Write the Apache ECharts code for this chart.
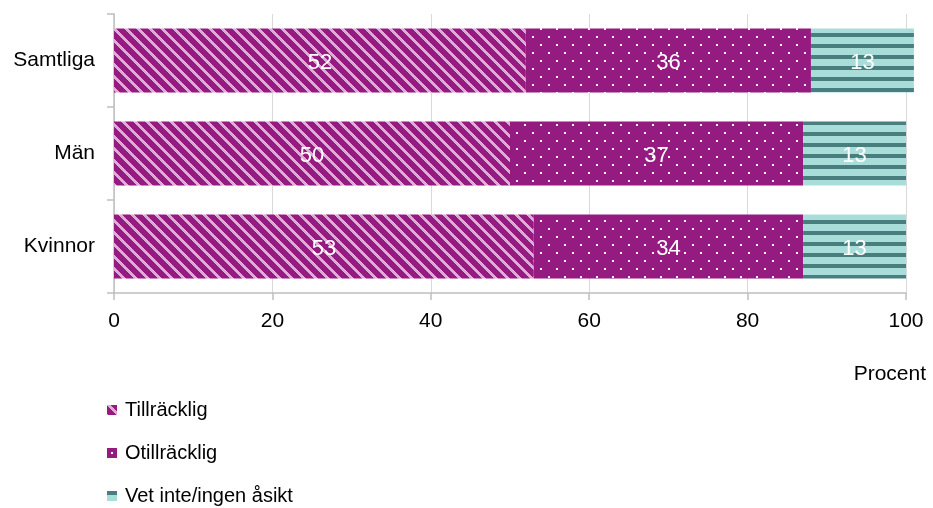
<!DOCTYPE html>
<html>
<head>
<meta charset="utf-8">
<script src="https://cdn.jsdelivr.net/npm/echarts@6/dist/echarts.min.js"></script>
<style>
html,body{margin:0;padding:0;background:#fff;}
#chart{width:933px;height:508px;}
</style>
</head>
<body>
<div id="chart"></div>
<script>
const categories = ['Samtliga', 'Män', 'Kvinnor'];
const seriesNames = ['Tillräcklig', 'Otillräcklig', 'Vet inte/ingen åsikt'];
const tillracklig = [52, 50, 53];
const otillracklig = [36, 37, 34];
const vetInte = [13, 13, 13];
const xTicks = [0, 20, 40, 60, 80, 100];
const axisName = 'Procent';

function makePattern(w, h, fn) {
  const c = document.createElement('canvas');
  c.width = w; c.height = h;
  const ctx = c.getContext('2d');
  const img = ctx.createImageData(w, h);
  for (let y = 0; y < h; y++) {
    for (let x = 0; x < w; x++) {
      const col = fn(x, y);
      const i = (y * w + x) * 4;
      img.data[i] = col[0]; img.data[i + 1] = col[1]; img.data[i + 2] = col[2]; img.data[i + 3] = 255;
    }
  }
  ctx.putImageData(img, 0, 0);
  return { image: c, repeat: 'repeat' };
}
const purple = [149, 27, 129];
const pink = [222, 170, 215];
const white = [255, 255, 255];
const tealDark = [72, 126, 126];
const tealLight = [169, 221, 218];

const pat1 = makePattern(12, 12, (x, y) => (((x - y) % 12 + 12) % 12) < 4 ? pink : purple);
const pat2 = makePattern(16, 16, (x, y) => {
  const a = (x >= 4 && x < 6 && y >= 4 && y < 6);
  const b = (x >= 12 && x < 14 && y >= 12 && y < 14);
  return (a || b) ? white : purple;
});
const pat3 = makePattern(11, 11, (x, y) => (y < 4) ? tealDark : tealLight);

const font = 'Liberation Sans, Arial, sans-serif';
const chart = echarts.init(document.getElementById('chart'), null, { renderer: 'canvas' });

const vals = [tillracklig, otillracklig, vetInte];
const pats = [pat1, pat2, pat3];

chart.setOption({
  animation: false,
  grid: { left: 114, right: 27, top: 14, bottom: 215, containLabel: false },
  title: {
    text: axisName, right: 2, top: 359,
    textStyle: { fontFamily: font, fontSize: 21, fontWeight: 'normal', color: '#000' }
  },
  legend: {
    orient: 'vertical', left: 107, top: 400, padding: 0, height: 140, itemGap: 23,
    itemWidth: 10, itemHeight: 10, icon: 'rect',
    textStyle: { fontFamily: font, fontSize: 20, color: '#000', padding: [0, 0, 0, 3] },
    data: seriesNames
  },
  xAxis: {
    type: 'value', min: 0, max: 100, interval: 20,
    axisLine: { show: true, lineStyle: { color: '#bfbfbf', width: 1.5 } },
    axisTick: { show: true, length: 7, lineStyle: { color: '#bfbfbf', width: 1.5 } },
    splitLine: { show: true, lineStyle: { color: '#d9d9d9', width: 1 } },
    axisLabel: {
      margin: 18, fontFamily: font, fontSize: 21, color: '#000',
      formatter: v => xTicks.includes(v) ? String(v) : ''
    }
  },
  yAxis: {
    type: 'category', inverse: true, data: categories,
    axisLine: { show: true, lineStyle: { color: '#bfbfbf', width: 1.5 } },
    axisTick: { show: true, length: 7, lineStyle: { color: '#bfbfbf', width: 1.5 } },
    axisLabel: { margin: 19, fontFamily: font, fontSize: 21, color: '#000' }
  },
  series: seriesNames.map((name, i) => ({
    name: name, type: 'bar', stack: 'total', barWidth: '69%', clip: false,
    data: vals[i],
    itemStyle: { color: pats[i] },
    label: {
      show: true, position: 'inside', color: '#fff',
      fontFamily: font, fontSize: 22, offset: [0, 2]
    }
  }))
});
</script>
</body>
</html>
